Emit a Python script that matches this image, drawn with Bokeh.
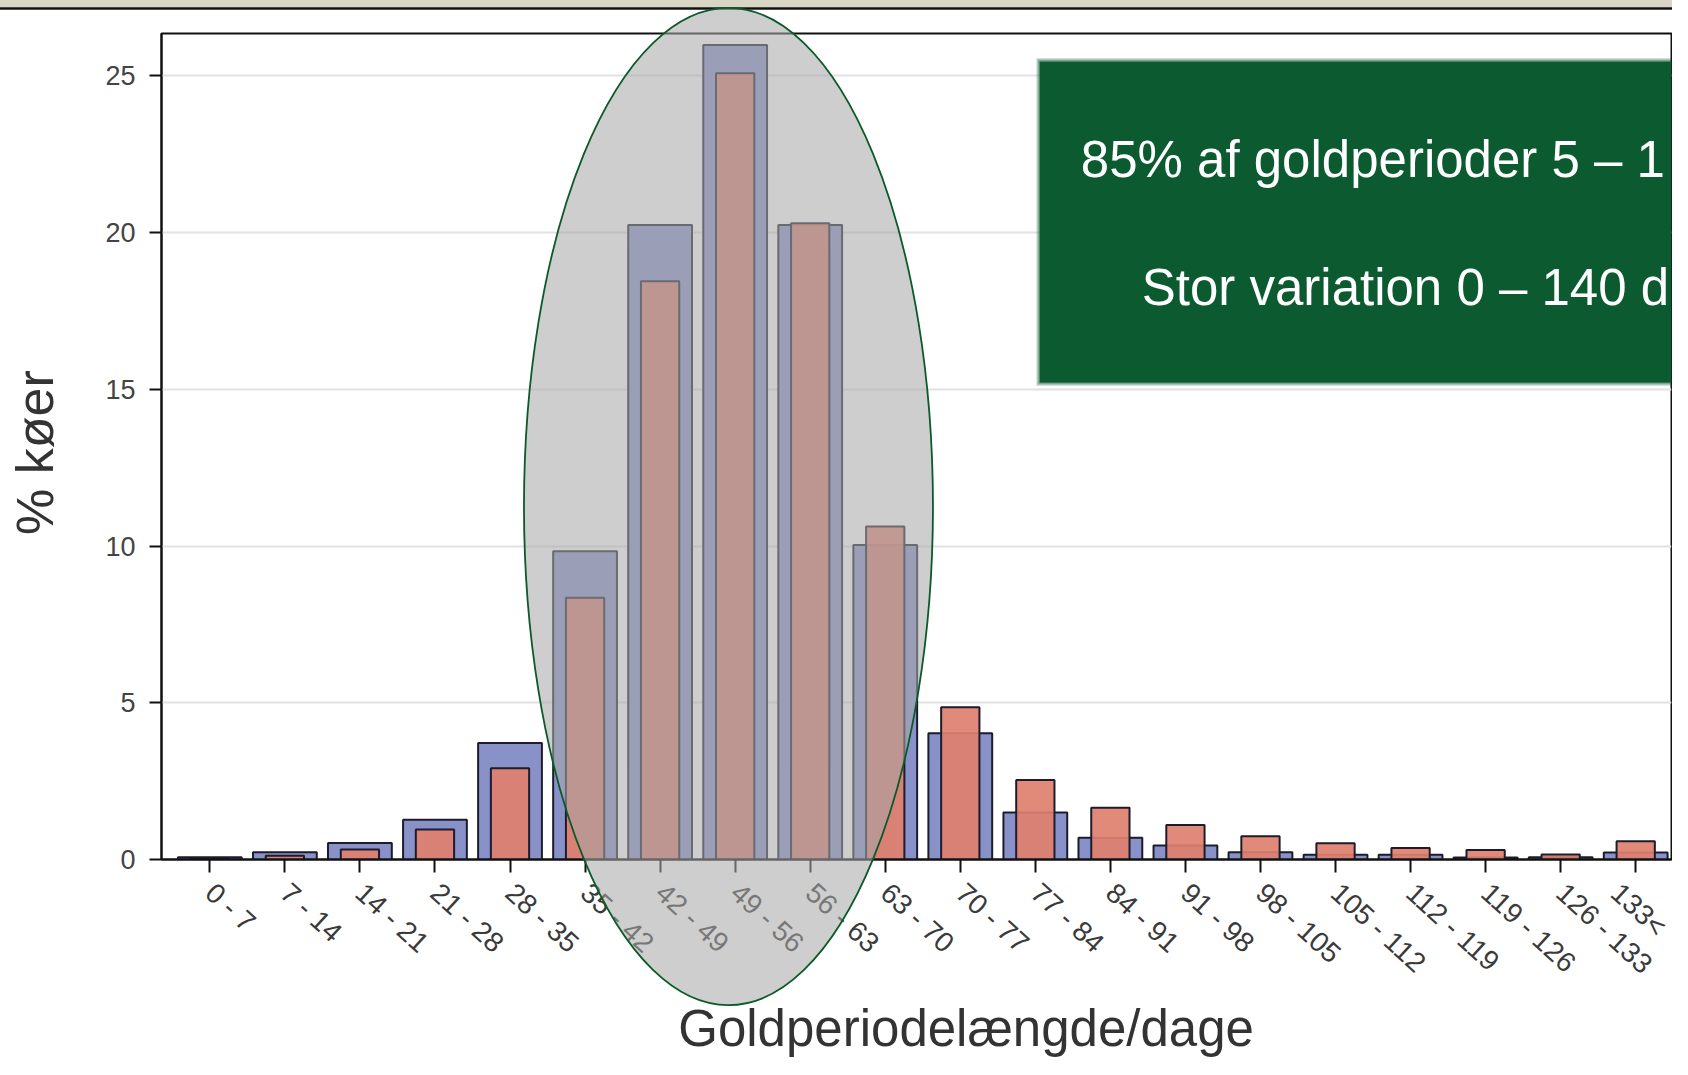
import math
from bokeh.plotting import figure
from bokeh.models import ColumnDataSource, Range1d, FixedTicker, BoxAnnotation, Label
from bokeh.core.properties import value
from bokeh.embed import file_html
from bokeh.resources import INLINE

# ---- data ----
categories = ["0 - 7", "7 - 14", "14 - 21", "21 - 28", "28 - 35", "35 - 42",
              "42 - 49", "49 - 56", "56 - 63", "63 - 70", "70 - 77", "77 - 84",
              "84 - 91", "91 - 98", "98 - 105", "105 - 112", "112 - 119",
              "119 - 126", "126 - 133", "133<"]
blue_pct = [0.07, 0.23, 0.53, 1.27, 3.72, 9.83, 20.24, 25.98, 20.24, 10.03,
            4.03, 1.50, 0.69, 0.45, 0.23, 0.15, 0.15, 0.06, 0.07, 0.22]
red_pct = [0.03, 0.12, 0.32, 0.96, 2.91, 8.35, 18.45, 25.08, 20.30, 10.62,
           4.86, 2.54, 1.65, 1.10, 0.74, 0.52, 0.37, 0.30, 0.16, 0.58]
y_ticks = [0, 5, 10, 15, 20, 25]

y_title = "% køer"
x_title = "Goldperiodelængde/dage"
box_line1 = "85% af goldperioder 5 – 1"
box_line2 = "Stor variation 0 – 140 d"

idx = list(range(len(categories)))
src = ColumnDataSource(dict(x=idx, blue=blue_pct, red=red_pct, cat=categories))

FONT = "Liberation Sans"

p = figure(width=1672, height=1059, output_backend="svg", toolbar_location=None,
           x_range=Range1d(-0.644, 19.477), y_range=Range1d(0, 26.35),
           min_border_left=161, min_border_right=1, min_border_top=33,
           min_border_bottom=200)
p.background_fill_color = "white"
p.border_fill_color = "white"
p.outline_line_color = "#111111"
p.outline_line_width = 2

# grid
p.xgrid.visible = False
p.ygrid.ticker = FixedTicker(ticks=y_ticks)
p.ygrid.grid_line_color = "#e2e2e2"
p.ygrid.grid_line_width = 2

# bars
p.vbar(x="x", top="blue", width=0.85, bottom=0, source=src,
       fill_color="#8891c8", line_color="#1c1c2c", line_width=2)
p.vbar(x="x", top="red", width=0.51, bottom=0, source=src,
       fill_color="#e0806e", fill_alpha=0.92, line_color="#1c1c2c", line_width=2)

# axes
p.xaxis.ticker = FixedTicker(ticks=idx)
p.xaxis.major_label_overrides = {i: c for i, c in zip(idx, categories)}
p.xaxis.major_label_orientation = -0.74
p.xaxis.major_label_text_font = FONT
p.xaxis.major_label_text_font_size = "28px"
p.xaxis.major_label_text_color = "#3a3a3a"
p.xaxis.major_label_standoff = 16
p.xaxis.major_tick_out = 13
p.xaxis.major_tick_in = 0
p.xaxis.minor_tick_line_color = None
p.xaxis.axis_line_width = 2
p.xaxis.axis_line_color = "#111111"
p.xaxis.major_tick_line_width = 2
p.xaxis.major_tick_line_color = "#111111"

p.yaxis.ticker = FixedTicker(ticks=y_ticks)
p.yaxis.major_label_text_font = FONT
p.yaxis.major_label_text_font_size = "27px"
p.yaxis.major_label_text_color = "#444444"
p.yaxis.major_label_standoff = 14
p.yaxis.major_tick_out = 12
p.yaxis.major_tick_in = 0
p.yaxis.minor_tick_line_color = None
p.yaxis.axis_line_width = 2
p.yaxis.axis_line_color = "#111111"
p.yaxis.major_tick_line_width = 2
p.yaxis.major_tick_line_color = "#111111"

# green call-out box (blurred edge built from a few faint layers + solid box)
for dx, dy, a in [(0.048, 0.115, 0.18), (0.032, 0.077, 0.28), (0.016, 0.038, 0.4)]:
    p.add_layout(BoxAnnotation(left=11.06 - dx, bottom=15.22 - dy, top=25.45 + dy,
                               fill_color="#0b5a30", fill_alpha=a, line_color=None))
p.add_layout(BoxAnnotation(left=11.06, bottom=15.22, top=25.45,
                           fill_color="#0b5a30", fill_alpha=1.0, line_color=None))
p.add_layout(Label(x=11.606, y=22.33, text=box_line1, text_align="left",
                   text_baseline="middle", text_font=FONT,
                   text_font_size="51px", text_color="white"))
p.add_layout(Label(x=12.418, y=18.25, text=box_line2, text_align="left",
                   text_baseline="middle", text_font=FONT,
                   text_font_size="51px", text_color="white"))

# slide strip along the very top
p.quad(left=[-3.0], right=[20.0], bottom=[27.18], top=[27.6],
       fill_color="#d8d5c4", line_color=None, level="overlay")
p.segment(x0=[-3.0], x1=[20.0], y0=[27.15], y1=[27.15],
          line_color="#111111", line_width=2.5, level="overlay")

# axis titles (drawn on the overlay level so they can sit outside the frame)
p.text(x=[-2.329], y=[12.98], text=[y_title], angle=math.pi / 2,
       text_align="center", text_baseline="middle",
       text_font=value(FONT), text_font_size=value("52px"),
       text_color="#333333", level="overlay")
p.text(x=[10.077], y=[-5.40], text=[x_title],
       text_align="center", text_baseline="middle",
       text_font=value(FONT), text_font_size=value("51px"),
       text_color="#333333", level="overlay")

# highlighted region (grey ellipse over 35–70 days)
p.ellipse(x=[6.911], y=[11.26], width=5.45, height=31.83,
          fill_color="#a8a8a8", fill_alpha=0.56,
          line_color="#0b5a2a", line_width=1.8, level="overlay")

open("out.html", "w").write(file_html(p, INLINE))
